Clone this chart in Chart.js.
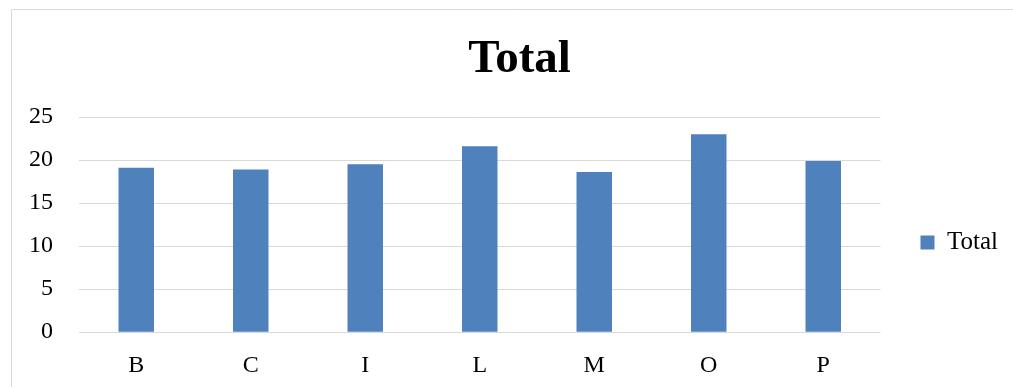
<!DOCTYPE html>
<html>
<head>
<meta charset="utf-8">
<script src="https://cdn.jsdelivr.net/npm/chart.js@4/dist/chart.umd.min.js"></script>
<style>
  html, body { margin: 0; padding: 0; background: #fff; }
  #wrap { position: relative; width: 1013px; height: 387px; }
</style>
</head>
<body>
<div id="wrap"><canvas id="myChart"></canvas></div>
<script>
// datos del gráfico
const categorias = ['B', 'C', 'I', 'L', 'M', 'O', 'P'];
const valoresTotal = [19.1, 18.9, 19.5, 21.6, 18.6, 23.0, 19.9];
const ticksY = [0, 5, 10, 15, 20, 25];

const fuente = "'Liberation Serif', 'Times New Roman', serif";

// marco gris del gráfico (estilo Excel)
const marco = {
    id: 'marco',
    beforeDraw(chart) {
        const c = chart.ctx;
        c.save();
        c.strokeStyle = '#d9d9d9';
        c.lineWidth = 1;
        c.beginPath();
        c.moveTo(11.5, 400);
        c.lineTo(11.5, 9.5);
        c.lineTo(1013, 9.5);
        c.stroke();
        c.restore();
    }
};

// ajusta leyenda, título y etiquetas del eje x como en el original
const mover = {
    id: 'mover',
    afterLayout(chart) {
        const l = chart.legend;
        l.top += 49;
        l.bottom += 49;
        l.left += 28;
        l.right += 28;
        const t = chart.titleBlock;
        t.left += 28;
        t.right += 28;
        const x = chart.scales.x;
        x.top += 6;
        x.bottom += 6;
    }
};

const ctx = document.getElementById('myChart');
new Chart(ctx, {
    type: 'bar',
    data: {
        labels: categorias,
        datasets: [{
            label: 'Total',
            data: valoresTotal,
            backgroundColor: '#4f81bd',
            borderColor: '#4f81bd',
            borderWidth: 0,
            barPercentage: 0.31,
            categoryPercentage: 1
        }]
    },
    options: {
        responsive: true,
        maintainAspectRatio: false,
        animation: false,
        layout: { padding: { left: 3, right: 33, top: 0, bottom: 0 } },
        plugins: {
            title: {
                display: true,
                text: 'Total',
                color: '#000',
                font: { family: fuente, size: 47, weight: 'bold' },
                padding: { top: 32, bottom: 28.6 }
            },
            legend: {
                position: 'right',
                labels: {
                    color: '#000',
                    font: { family: fuente, size: 25 },
                    boxWidth: 14,
                    boxHeight: 14,
                    padding: 12
                }
            },
            tooltip: { enabled: false }
        },
        scales: {
            x: {
                grid: { display: false, drawTicks: false, tickLength: 0 },
                border: { display: false },
                ticks: {
                    color: '#000',
                    font: { family: fuente, size: 24 },
                    padding: 13
                }
            },
            y: {
                min: 0,
                max: 25,
                afterBuildTicks(axis) { axis.ticks = ticksY.map(v => ({ value: v })); },
                grid: { color: '#d9d9d9', lineWidth: 1, drawTicks: false },
                border: { display: false },
                ticks: {
                    color: '#000',
                    font: { family: fuente, size: 24 },
                    padding: 26
                }
            }
        }
    },
    plugins: [marco, mover]
});
</script>
</body>
</html>
